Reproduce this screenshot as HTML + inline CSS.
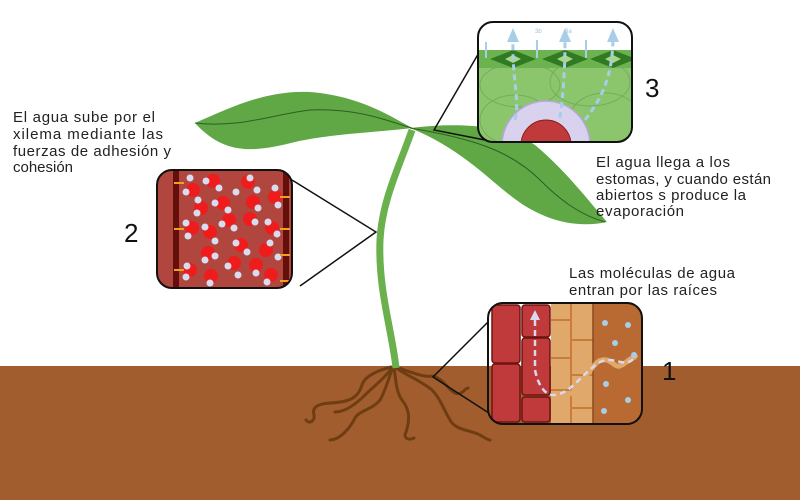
<!DOCTYPE html>
<html><head><meta charset="utf-8"><style>
html,body{margin:0;padding:0;background:#fff}
svg{display:block}
text{font-family:"Liberation Sans",sans-serif;font-size:15px;fill:#222}
.n{font-size:26px;fill:#111}
</style></head><body>
<svg width="800" height="500" viewBox="0 0 800 500" xmlns="http://www.w3.org/2000/svg">
<defs>
<clipPath id="c3"><rect x="478" y="22" width="154" height="120" rx="15"/></clipPath>
<clipPath id="c2"><rect x="157" y="170" width="135" height="118" rx="15"/></clipPath>
<clipPath id="c1"><rect x="488" y="303" width="154" height="121" rx="15"/></clipPath>
</defs>
<rect x="0" y="366" width="800" height="134" fill="#a25d2e"/>
<g fill="none" stroke="#6e3d12" stroke-width="3" stroke-linecap="round">
<path d="M391 367 C380 370 365 375 362 385 C358 398 350 402 330 403 C316 404 312 408 314 415 C315 420 310 425 306 420"/>
<path d="M393 367 C388 380 385 392 380 400 C372 410 360 410 355 418 C350 428 340 440 330 440"/>
<path d="M394 368 C396 380 396 392 402 400 C410 410 410 420 406 432 C402 440 412 440 414 438"/>
<path d="M395 367 C405 375 420 380 432 390 C440 398 444 410 450 420 C455 430 470 430 480 435 C485 438 488 440 490 440"/>
<path d="M396 367 C410 372 425 378 433 376 C445 380 448 390 455 393 C462 396 465 388 468 388"/>
<path d="M392 368 C385 378 372 388 365 395 C355 405 345 412 335 412"/>
</g>
<path d="M412 130 C400 165 382 200 380 240 C378 290 392 330 396 368" fill="none" stroke="#6ab04c" stroke-width="7"/>
<path d="M195 123 C230 108 265 90 310 92 C360 96 390 116 412 128 C380 132 330 134 295 142 C255 152 225 156 195 123Z" fill="#5fa845"/>
<path d="M195 123 C240 128 270 115 310 110 C360 108 390 122 412 128" fill="none" stroke="#2f5e22" stroke-width="1"/>
<path d="M410 128 C460 122 505 125 535 145 C565 170 588 200 607 222 C578 228 550 222 522 204 C492 184 465 150 410 128Z" fill="#5fa845"/>
<path d="M410 128 C470 138 510 150 540 180 C560 200 580 215 605 222" fill="none" stroke="#2f5e22" stroke-width="1"/>
<g stroke="#111" stroke-width="1.5" fill="none">
<path d="M484 44 L434 130 L485 140"/>
<path d="M292 180 L376 232 L300 286"/>
<path d="M492 318 L433 377 L492 415"/>
</g>
<g clip-path="url(#c3)">
<rect x="478" y="22" width="154" height="120" fill="#fff"/>
<rect x="478" y="50" width="154" height="92" fill="#8cc66c"/>
<rect x="478" y="50" width="154" height="18" fill="#6cb24e"/>
<g fill="none" stroke="#74ad5c" stroke-width="1">
<ellipse cx="520" cy="85" rx="40" ry="22"/><ellipse cx="590" cy="82" rx="40" ry="24"/><ellipse cx="515" cy="120" rx="35" ry="25"/><ellipse cx="605" cy="118" rx="35" ry="25"/>
</g>
<g fill="#2f7a22"><path d="M490 59 L513 50 L536 59 L513 68Z"/><path d="M542 59 L565 50 L588 59 L565 68Z"/><path d="M590 59 L613 50 L636 59 L613 68Z"/></g>
<g fill="#a9d68c"><path d="M505 59 L513 55 L521 59 L513 63Z"/><path d="M557 59 L565 55 L573 59 L565 63Z"/><path d="M605 59 L613 55 L621 59 L613 63Z"/></g>
<circle cx="546" cy="145" r="44" fill="#d9d2ee" stroke="#b7a6dc" stroke-width="1.5"/>
<circle cx="546" cy="145" r="25" fill="#c0393b" stroke="#8b1a1a" stroke-width="1"/>
<g stroke="#a8cde8" stroke-width="3" fill="none" stroke-dasharray="6 4">
<path d="M515 120 C520 100 512 80 513 40"/><path d="M560 118 C562 100 565 80 565 40"/><path d="M585 120 C600 100 612 80 613 40"/>
</g>
<g fill="#a8cde8"><path d="M507 42 L513 28 L519 42Z"/><path d="M559 42 L565 28 L571 42Z"/><path d="M607 42 L613 28 L619 42Z"/></g>
<g stroke="#a8cde8" stroke-width="2"><path d="M486 58 V42"/><path d="M537 58 V40"/><path d="M586 58 V40"/></g>
<text x="535" y="33" style="font-size:6px;fill:#9cc4e0">3b</text><text x="565" y="33" style="font-size:6px;fill:#9cc4e0">3a</text>
</g>
<rect x="478" y="22" width="154" height="120" rx="15" fill="none" stroke="#111" stroke-width="2"/>
<g clip-path="url(#c2)">
<rect x="157" y="170" width="135" height="118" fill="#b1463e"/>
<rect x="173" y="170" width="6" height="118" fill="#650f0d"/>
<rect x="283" y="170" width="6" height="118" fill="#650f0d"/>
<g fill="#ee1c1c">
<circle cx="193" cy="190" r="7"/><circle cx="213" cy="181" r="7"/><circle cx="248" cy="182" r="7"/><circle cx="275" cy="197" r="7"/><circle cx="223" cy="203" r="7"/><circle cx="201" cy="208" r="7"/><circle cx="253" cy="202" r="7"/><circle cx="250" cy="219" r="7"/><circle cx="192" cy="228" r="7"/><circle cx="229" cy="220" r="7"/><circle cx="272" cy="228" r="7"/><circle cx="210" cy="232" r="7"/><circle cx="241" cy="245" r="7"/><circle cx="266" cy="250" r="7"/><circle cx="208" cy="253" r="7"/><circle cx="234" cy="263" r="7"/><circle cx="190" cy="270" r="7"/><circle cx="211" cy="276" r="7"/><circle cx="256" cy="265" r="7"/><circle cx="271" cy="275" r="7"/>
</g>
<g fill="#d7dcf0">
<circle cx="190" cy="178" r="3.5"/><circle cx="186" cy="192" r="3.5"/><circle cx="206" cy="181" r="3.5"/><circle cx="219" cy="188" r="3.5"/><circle cx="250" cy="178" r="3.5"/><circle cx="257" cy="190" r="3.5"/><circle cx="236" cy="192" r="3.5"/><circle cx="275" cy="188" r="3.5"/><circle cx="278" cy="205" r="3.5"/><circle cx="198" cy="200" r="3.5"/><circle cx="197" cy="213" r="3.5"/><circle cx="215" cy="203" r="3.5"/><circle cx="228" cy="210" r="3.5"/><circle cx="258" cy="208" r="3.5"/><circle cx="255" cy="222" r="3.5"/><circle cx="186" cy="223" r="3.5"/><circle cx="188" cy="236" r="3.5"/><circle cx="205" cy="227" r="3.5"/><circle cx="222" cy="224" r="3.5"/><circle cx="234" cy="228" r="3.5"/><circle cx="268" cy="222" r="3.5"/><circle cx="277" cy="234" r="3.5"/><circle cx="215" cy="241" r="3.5"/><circle cx="236" cy="243" r="3.5"/><circle cx="247" cy="252" r="3.5"/><circle cx="270" cy="243" r="3.5"/><circle cx="278" cy="257" r="3.5"/><circle cx="205" cy="260" r="3.5"/><circle cx="215" cy="256" r="3.5"/><circle cx="228" cy="266" r="3.5"/><circle cx="238" cy="275" r="3.5"/><circle cx="187" cy="266" r="3.5"/><circle cx="186" cy="277" r="3.5"/><circle cx="210" cy="283" r="3.5"/><circle cx="256" cy="273" r="3.5"/><circle cx="267" cy="282" r="3.5"/>
</g>
<g stroke="#f0a020" stroke-width="2"><path d="M174 183 h10"/><path d="M174 229 h10"/><path d="M174 270 h10"/><path d="M280 197 h10"/><path d="M280 229 h10"/><path d="M280 255 h10"/><path d="M280 281 h10"/></g>
</g>
<rect x="157" y="170" width="135" height="118" rx="15" fill="none" stroke="#111" stroke-width="2"/>
<g clip-path="url(#c1)">
<rect x="488" y="303" width="154" height="121" fill="#fff"/>
<rect x="488" y="366" width="154" height="58" fill="#a25d2e"/>
<g fill="#c0393b" stroke="#6d1410" stroke-width="1.5">
<rect x="492" y="305" width="28" height="58" rx="3"/><rect x="492" y="364" width="28" height="58" rx="3"/>
<rect x="522" y="305" width="28" height="32" rx="3"/><rect x="522" y="338" width="28" height="57" rx="3"/><rect x="522" y="397" width="28" height="25" rx="3"/>
</g>
<rect x="551" y="303" width="42" height="121" fill="#e0a86a"/>
<g fill="none" stroke="#c97c3c" stroke-width="2">
<path d="M571 303 V424"/><path d="M551 320 h20 M551 358 h20 M551 390 h20 M571 340 h22 M571 375 h22 M571 408 h22"/>
</g>
<rect x="593" y="303" width="49" height="121" fill="#b86a32"/>
<path d="M593 303 V424" stroke="#8a4a1c" stroke-width="1.5"/>
<path d="M570 395 C585 380 595 360 602 360 C612 358 615 370 622 365 C630 360 633 355 637 358" fill="none" stroke="#e0a86a" stroke-width="5"/>
<path d="M535 320 V370 C538 385 545 395 553 395 C570 395 580 375 600 362 C615 355 625 370 635 357" fill="none" stroke="#d8d8ee" stroke-width="2.5" stroke-dasharray="6 4"/>
<path d="M530 320 L535 310 L540 320Z" fill="#d8d8ee"/>
<g fill="#a8cde8"><circle cx="605" cy="323" r="3"/><circle cx="628" cy="325" r="3"/><circle cx="615" cy="343" r="3"/><circle cx="606" cy="384" r="3"/><circle cx="628" cy="400" r="3"/><circle cx="604" cy="411" r="3"/><circle cx="634" cy="355" r="3"/></g>
</g>
<rect x="488" y="303" width="154" height="121" rx="15" fill="none" stroke="#111" stroke-width="2"/>
<text x="13" y="122" textLength="142">El agua sube por el</text>
<text x="13" y="139" textLength="150">xilema mediante las</text>
<text x="13" y="156" textLength="158">fuerzas de adhesión y</text>
<text x="13" y="172" textLength="60">cohesión</text>
<text x="596" y="167" textLength="134">El agua llega a los</text>
<text x="596" y="184" textLength="175">estomas, y cuando están</text>
<text x="596" y="200" textLength="150">abiertos s produce la</text>
<text x="596" y="216" textLength="88">evaporación</text>
<text x="569" y="278" textLength="166">Las moléculas de agua</text>
<text x="569" y="295" textLength="148">entran por las raíces</text>
<text class="n" x="645" y="97">3</text>
<text class="n" x="124" y="242">2</text>
<text class="n" x="662" y="380">1</text>
</svg>
</body></html>
